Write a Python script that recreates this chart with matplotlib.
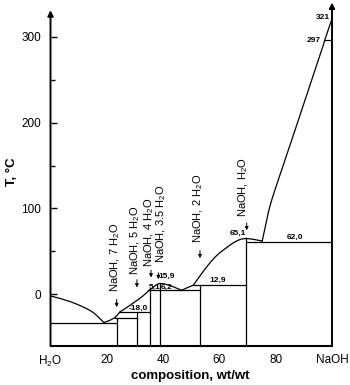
import matplotlib
matplotlib.use("Agg")
import matplotlib.pyplot as plt
import numpy as np

plt.rcParams['font.family'] = ['Liberation Sans', 'DejaVu Sans']
plt.rcParams['mathtext.default'] = 'regular'

# ---- data (composition wt% NaOH, temperature degC) ----
ice_x = [0, 5, 10, 15, 19]
ice_T = [-2, -6.5, -12.5, -21, -33]

hepta_x = [19, 21, 22.9]
hepta_T = [-33, -30.5, -27.2]

penta_x = [22.9, 23.8, 24.7]
penta_T = [-27.2, -24, -20.6]

tetra_x = [24.7, 26.5, 28.8, 32.4, 35]
tetra_T = [-20.6, -16.7, -11.6, -3.1, 4.5]

hemi_x = [35, 36.5, 37.8, 38.8, 40.5, 43, 45, 46.6]
hemi_T = [4.5, 8.3, 11.3, 12.5, 12, 9.5, 6.8, 4.5]

di_x = [46.6, 48.5, 50.7]
di_T = [4.5, 7.5, 10.5]

mono_x = [50.7, 53, 56, 59, 62, 65, 67.5, 69.5]
mono_T = [10.5, 21, 34, 45, 53, 60, 64, 65]

eut_x = [69.5, 72, 75.2]
eut_T = [65, 64, 62]

naoh_x = [75.2, 76.5, 78.6, 84.5, 90.4, 96.3, 97.4, 100]
naoh_T = [62, 82, 110, 168, 226, 284, 296, 321]

# compound verticals
comp_x = [23.5, 30.6, 35.3, 38.8, 53.0, 69.5]
comp_top = [-27.2, -20.6, 4.5, 12.5, 10.5, 65]

# invariant horizontal lines
inv_x0 = [0, 22.9, 24.7, 35, 38.8, 50.7, 69.5, 97.4]
inv_x1 = [23.5, 30.6, 35.3, 38.8, 53.0, 69.5, 100, 100]
inv_T = [-33, -27.2, -20.6, 4.5, 4.5, 10.5, 61, 296]

# numeric labels
num_text = ["321", "297", "62,0", "65,1", "12,9", "15,9", "5,1", "6,2", "-18,0"]
num_x = [99.4, 95.9, 86.9, 66.7, 59.5, 41.2, 36.9, 41.2, 31.2]
num_y = [322, 296, 66.7, 71.4, 16.3, 21, 8.3, 8.3, -16.7]
num_ha = ['right', 'right', 'center', 'center', 'center', 'center', 'center', 'center', 'center']

# compound labels
lab_text = ["NaOH, 7 H$_2$O", "NaOH, 5 H$_2$O", "NaOH, 4 H$_2$O",
            "NaOH, 3.5 H$_2$O", "NaOH, 2 H$_2$O", "NaOH, H$_2$O"]
lab_x = [22.9, 30.0, 35.0, 39.4, 52.5, 68.5]
lab_y = [2.7, 22, 32, 36, 59.4, 89.7]
arr_x = [23.5, 30.7, 35.7, 38.3, 53.1, 69.7]
arr_y0 = [-6, 17, 28, 25, 51, 83]
arr_y1 = [-15, 8, 19.5, 17.5, 42, 74.5]

xticks = [0, 20, 40, 60, 80, 100]
xticklabels = ["H$_2$O", "20", "40", "60", "80", "NaOH"]
yticks = [0, 100, 200, 300]
yminor = [50, 150, 250]


def catmull_rom(xs, ys, n=20):
    p = np.column_stack([xs, ys]).astype(float)
    p = np.vstack([2 * p[0] - p[1], p, 2 * p[-1] - p[-2]])
    out = []
    for i in range(1, len(p) - 2):
        p0, p1, p2, p3 = p[i - 1], p[i], p[i + 1], p[i + 2]
        t = np.linspace(0, 1, n, endpoint=False)[:, None]
        seg = 0.5 * ((2 * p1) + (-p0 + p2) * t + (2 * p0 - 5 * p1 + 4 * p2 - p3) * t ** 2
                     + (-p0 + 3 * p1 - 3 * p2 + p3) * t ** 3)
        out.append(seg)
    out.append(p[-2][None, :])
    out = np.vstack(out)
    return out[:, 0], out[:, 1]


fig = plt.figure(figsize=(3.5, 3.85), dpi=100)
ax = fig.add_axes([0.1443, 0.102, 0.8043, 0.896])
ax.set_xlim(0, 100)
ax.set_ylim(-60, 342)

lw = 0.9
for xs, ts in [(ice_x, ice_T), (hepta_x, hepta_T), (penta_x, penta_T),
               (tetra_x, tetra_T), (hemi_x, hemi_T), (di_x, di_T),
               (mono_x, mono_T), (eut_x, eut_T), (naoh_x, naoh_T)]:
    cx, cy = catmull_rom(xs, ts)
    ax.plot(cx, cy, color='black', lw=lw)

for x, t in zip(comp_x, comp_top):
    ax.plot([x, x], [-60, t], color='black', lw=lw)
for x0, x1, t in zip(inv_x0, inv_x1, inv_T):
    ax.plot([x0, x1], [t, t], color='black', lw=lw)

for s, x, y, ha in zip(num_text, num_x, num_y, num_ha):
    ax.text(x, y, s, ha=ha, va='center', fontsize=6, fontweight='bold')

for s, x, y in zip(lab_text, lab_x, lab_y):
    ax.text(x, y, s, rotation=90, ha='center', va='bottom', fontsize=8)
for x, y0, y1 in zip(arr_x, arr_y0, arr_y1):
    ax.annotate('', xy=(x, y1), xytext=(x, y0),
                arrowprops=dict(arrowstyle='-|>', lw=0.7, color='black',
                                mutation_scale=5, shrinkA=0, shrinkB=0))

# spines
for s in ['top', 'left', 'right']:
    ax.spines[s].set_visible(False)
ax.spines['bottom'].set_linewidth(1.5)
ax.annotate('', xy=(0, 331), xytext=(0, -60), annotation_clip=False,
            arrowprops=dict(arrowstyle='-|>', lw=1.4, color='black',
                            mutation_scale=8, shrinkA=0, shrinkB=0))
ax.annotate('', xy=(100, 340), xytext=(100, -60), annotation_clip=False,
            arrowprops=dict(arrowstyle='-|>', lw=1.4, color='black',
                            mutation_scale=8, shrinkA=0, shrinkB=0))

ax.set_xticks(xticks)
ax.set_xticklabels(xticklabels)
ax.tick_params(axis='x', length=0, pad=6, labelsize=8.5)
ax.set_yticks(yticks)
ax.set_yticks(yminor, minor=True)
ax.tick_params(axis='y', which='major', direction='in', length=4, width=1, pad=7, labelsize=8.5)
ax.tick_params(axis='y', which='minor', direction='in', length=3, width=1)

fig.text(12 / 350, 1 - 172 / 385, 'T, °C', rotation=90, ha='center', va='center',
         fontsize=9.5, fontweight='bold')
fig.text(190 / 350, 1 - 376.5 / 385, 'composition, wt/wt', ha='center', va='center',
         fontsize=9.5, fontweight='bold')

fig.savefig('out.png', dpi=100)
